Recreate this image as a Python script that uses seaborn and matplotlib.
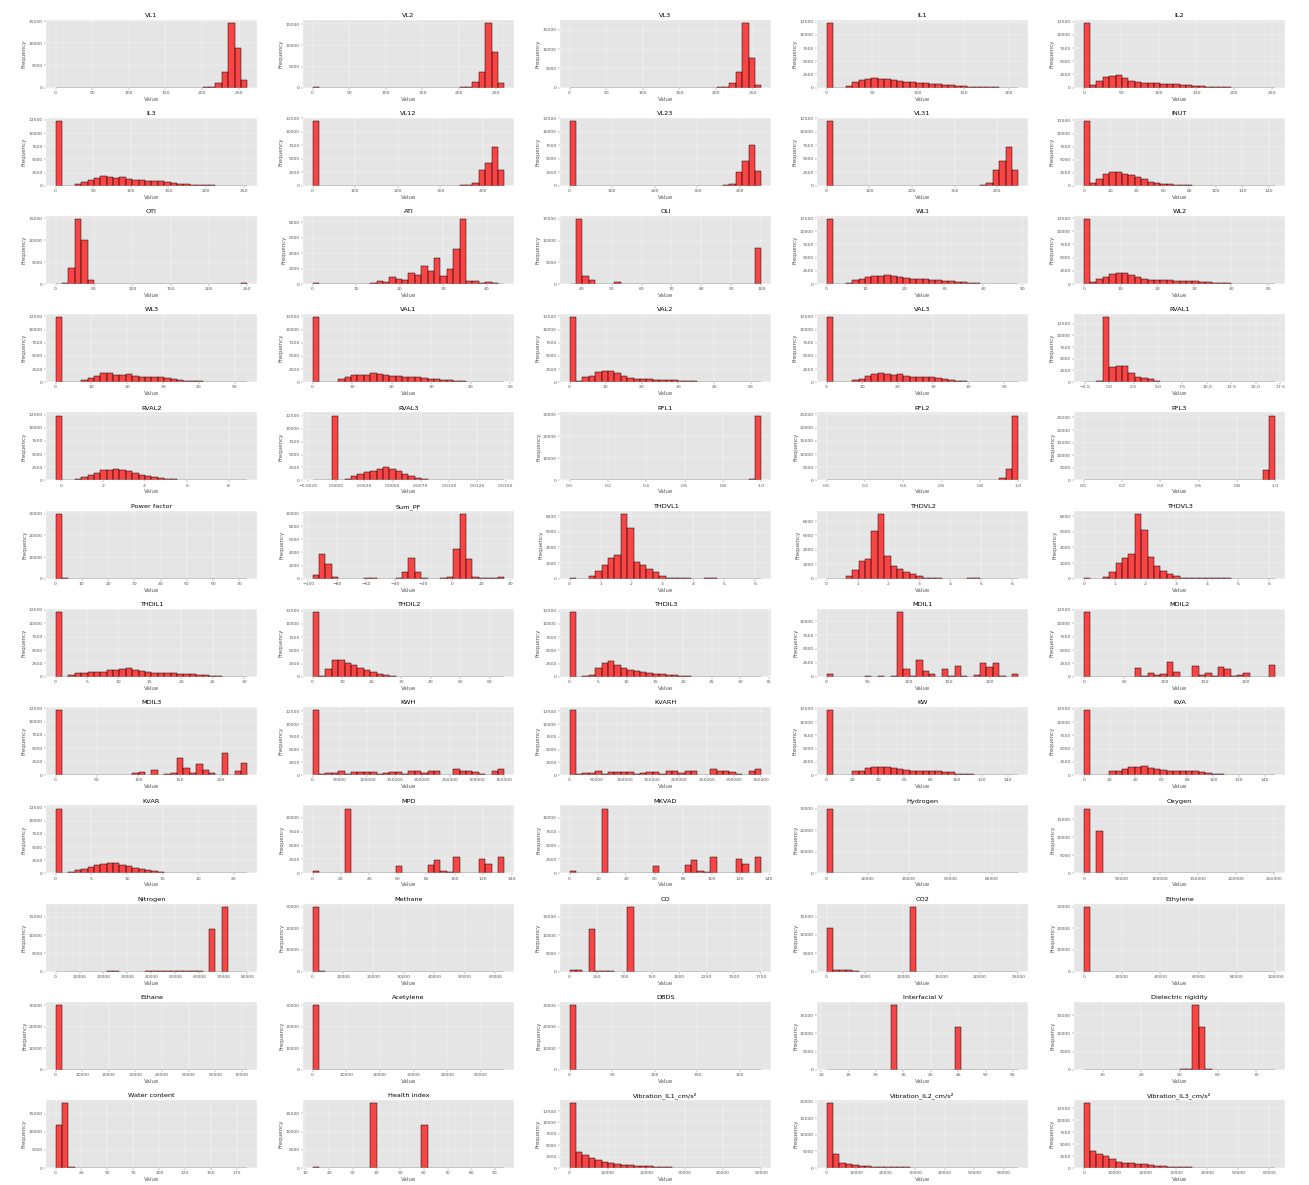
import numpy as np
import pandas as pd
import matplotlib
matplotlib.use("Agg")
import matplotlib.pyplot as plt
from matplotlib.ticker import MaxNLocator
import seaborn as sns

# ---------------------------------------------------------------------------
# Histogram data: for every column, the (min, max) range of the values and
# the counts of its 30 equal-width bins.
# ---------------------------------------------------------------------------
VL1_RANGE = (0, 262)
VL1 = [5, 0, 0, 0, 0, 0, 0, 0, 0, 0, 0, 0, 0, 0, 0, 0, 0, 0, 0, 0,
       0, 0, 0, 50, 150, 1000, 3500, 14600, 9000, 1600]
VL2_RANGE = (0, 262)
VL2 = [150, 0, 0, 0, 0, 0, 0, 0, 0, 0, 0, 0, 0, 0, 0, 0, 0, 0, 0, 0,
       0, 0, 0, 50, 100, 1300, 3700, 15400, 8500, 1100]
VL3_RANGE = (0, 262)
VL3 = [5, 0, 0, 0, 0, 0, 0, 0, 0, 0, 0, 0, 0, 0, 0, 0, 0, 0, 0, 0,
       0, 0, 0, 50, 100, 1100, 3900, 16800, 7700, 600]
IL1_RANGE = (0, 210)
IL1 = [12300, 0, 0, 300, 1000, 1400, 1600, 1800, 1700, 1600,
       1500, 1300, 1100, 1000, 900, 800, 700, 600, 500, 400,
       300, 200, 120, 60, 30, 20, 10, 5, 5, 3]
IL2_RANGE = (0, 255)
IL2 = [12300, 500, 1300, 2000, 2100, 2300, 1900, 1300, 1000, 900,
       800, 800, 700, 600, 600, 500, 400, 300, 200, 100,
       60, 30, 10, 5, 3, 2, 0, 0, 0, 2]
IL3_RANGE = (0, 255)
IL3 = [12300, 0, 0, 300, 700, 1100, 1500, 1800, 1600, 1500,
       1600, 1200, 1100, 1000, 900, 900, 900, 800, 600, 400,
       300, 200, 150, 100, 50, 20, 10, 5, 5, 3]
VL12_RANGE = (0, 450)
VL12 = [12000, 0, 0, 0, 0, 0, 0, 0, 0, 0, 0, 0, 0, 0, 0, 0, 0, 0, 0, 0,
        0, 0, 0, 50, 100, 500, 2900, 4300, 7100, 3000]
VL23_RANGE = (0, 450)
VL23 = [12000, 0, 0, 0, 0, 0, 0, 0, 0, 0, 0, 0, 0, 0, 0, 0, 0, 0, 0, 0,
        0, 0, 0, 30, 100, 400, 2600, 4600, 7600, 2700]
VL31_RANGE = (0, 450)
VL31 = [12000, 0, 0, 0, 0, 0, 0, 0, 0, 0, 0, 0, 0, 0, 0, 0, 0, 0, 0, 0,
        0, 0, 0, 30, 100, 500, 2900, 4500, 7200, 2900]
INUT_RANGE = (0, 145)
INUT = [12400, 600, 1300, 2300, 2700, 2600, 2300, 2000, 1600, 1200,
        800, 600, 400, 250, 150, 80, 50, 20, 10, 5,
        3, 2, 0, 0, 0, 0, 0, 0, 0, 2]

OTI_RANGE = (0, 250)
OTI = [30, 300, 3700, 14800, 10000, 800, 100, 0, 0, 0,
       0, 0, 0, 0, 0, 0, 0, 0, 0, 0, 0, 0, 0, 0, 0, 0, 0, 0, 0, 200]
ATI_RANGE = (0, 44)
ATI = [100, 0, 0, 0, 0, 0, 0, 0, 50, 100,
       400, 300, 900, 600, 500, 1400, 1200, 2300, 1700, 3400,
       1100, 2000, 4600, 8400, 400, 400, 100, 200, 100, 30]
OLI_RANGE = (36, 100)
OLI = [100, 14900, 1800, 1000, 100, 100, 100, 400, 100, 50,
       50, 50, 100, 50, 50, 50, 50, 50, 50, 50,
       50, 50, 100, 50, 50, 100, 50, 50, 100, 8200]
WL1_RANGE = (0, 49)
WL1 = [12300, 0, 0, 100, 700, 1000, 1400, 1500, 1500, 1800,
       1500, 1300, 1200, 1000, 1000, 900, 800, 700, 600, 500,
       400, 300, 200, 100, 60, 40, 20, 10, 5, 3]
WL2_RANGE = (0, 52)
WL2 = [12300, 300, 1000, 1400, 1900, 2000, 2000, 1700, 1300, 1000,
       800, 800, 700, 700, 600, 600, 500, 500, 400, 300,
       200, 150, 100, 50, 30, 10, 5, 3, 2, 2]

WL3_RANGE = (0, 53.5)
WL3 = [12300, 0, 0, 100, 500, 800, 1200, 1700, 1800, 1400,
       1400, 1600, 1100, 1000, 900, 900, 900, 800, 600, 400,
       300, 200, 150, 100, 60, 40, 20, 10, 5, 3]
VAL1_RANGE = (0, 48.5)
VAL1 = [12300, 0, 0, 100, 700, 1000, 1400, 1400, 1400, 1700,
        1500, 1400, 1200, 1100, 1000, 900, 900, 800, 700, 600,
        500, 400, 300, 200, 100, 60, 40, 20, 10, 5]
VAL2_RANGE = (0, 53)
VAL2 = [12300, 200, 1000, 1200, 2000, 2100, 2100, 1800, 1200, 800,
        700, 700, 600, 500, 500, 400, 400, 300, 200, 150,
        100, 60, 30, 10, 5, 3, 2, 0, 0, 2]
VAL3_RANGE = (0, 54)
VAL3 = [12300, 0, 0, 100, 500, 700, 1100, 1600, 1800, 1500,
        1400, 1600, 1100, 1000, 900, 900, 900, 800, 600, 400,
        300, 200, 100, 50, 30, 20, 10, 5, 3, 2]
RVAL1_RANGE = (-2.6, 17.0)
RVAL1 = [3, 0, 200, 13800, 3200, 3500, 3500, 2000, 1200, 900,
         600, 300, 100, 50, 20, 10, 5, 0, 0, 0,
         0, 0, 0, 0, 0, 0, 0, 0, 0, 2]

RVAL2_RANGE = (-0.25, 8.9)
RVAL2 = [12300, 0, 0, 300, 600, 1000, 1500, 2000, 2000, 2100,
         1900, 1700, 1400, 1100, 800, 600, 400, 300, 200, 150,
         100, 60, 40, 20, 10, 5, 3, 2, 0, 2]
RVAL3_RANGE = (-0.0021, 0.0149)
RVAL3 = [3, 0, 100, 12500, 0, 300, 800, 1300, 1600, 1800,
         2300, 2600, 2200, 1800, 1300, 900, 500, 250, 100, 50,
         20, 10, 5, 0, 0, 0, 0, 0, 0, 2]
PFL1_RANGE = (0, 1)
PFL1 = [30, 0, 0, 0, 0, 0, 0, 0, 0, 0, 0, 0, 0, 0, 0, 0, 0, 0, 0, 0,
        0, 0, 0, 0, 0, 0, 0, 0, 700, 29300]
PFL2_RANGE = (0, 1)
PFL2 = [30, 0, 0, 0, 0, 0, 0, 0, 0, 0, 0, 0, 0, 0, 0, 0, 0, 0, 0, 0,
        0, 0, 0, 0, 0, 50, 200, 1100, 4200, 24500]
PFL3_RANGE = (0, 1)
PFL3 = [30, 0, 0, 0, 0, 0, 0, 0, 0, 0, 0, 0, 0, 0, 0, 0, 0, 0, 0, 0,
        0, 0, 0, 0, 0, 0, 100, 300, 4000, 25700]

POWER_FACTOR_RANGE = (0, 73)
POWER_FACTOR = [30000, 100, 0, 0, 0, 0, 0, 0, 0, 0, 0, 0, 0, 0, 0,
                0, 0, 0, 0, 0, 0, 0, 0, 0, 0, 0, 0, 0, 0, 2]
SUM_PF_RANGE = (-97, 36)
SUM_PF = [500, 3700, 2200, 200, 0, 0, 0, 0, 50, 50,
          0, 0, 0, 50, 1000, 3100, 1000, 50, 0, 0,
          50, 200, 4600, 9900, 3000, 200, 30, 30, 30, 300]
THDVL1_RANGE = (0, 6.2)
THDVL1 = [20, 10, 10, 300, 1000, 1700, 2700, 3000, 8300, 6500,
          2100, 1700, 1300, 800, 300, 100, 50, 30, 20, 10,
          10, 40, 40, 0, 0, 0, 0, 0, 0, 5]
THDVL2_RANGE = (0, 6.2)
THDVL2 = [20, 10, 10, 300, 1200, 2400, 2700, 6600, 9000, 3200,
          1700, 1300, 900, 700, 400, 100, 50, 30, 20, 10,
          10, 10, 40, 40, 0, 0, 0, 0, 0, 5]
THDVL3_RANGE = (0, 6.2)
THDVL3 = [20, 10, 10, 200, 900, 2000, 2600, 3200, 8300, 6200,
          2800, 1600, 1000, 600, 400, 100, 30, 30, 30, 30,
          30, 30, 30, 0, 0, 0, 0, 0, 0, 5]

THDIL1_RANGE = (0, 30.5)
THDIL1 = [12100, 0, 300, 700, 700, 900, 900, 900, 1200, 1300,
          1500, 1600, 1300, 1100, 900, 800, 700, 700, 700, 600,
          600, 500, 400, 300, 200, 100, 50, 20, 10, 5]
THDIL2_RANGE = (0, 65)
THDIL2 = [12200, 100, 1400, 3200, 3200, 2700, 2300, 1700, 1300, 1000,
          600, 300, 100, 30, 10, 5, 3, 2, 0, 0,
          0, 0, 0, 0, 0, 0, 0, 0, 0, 2]
THDIL3_RANGE = (0, 33.7)
THDIL3 = [12200, 0, 100, 400, 1600, 2600, 3000, 2200, 1600, 1300,
          1200, 1000, 800, 600, 500, 400, 300, 200, 100, 50,
          20, 10, 5, 0, 0, 0, 0, 0, 0, 2]
MDIL1_RANGE = (0, 235)
MDIL1 = [450, 0, 0, 0, 0, 0, 100, 0, 200, 0,
         200, 11600, 1500, 100, 3100, 1100, 500, 50, 1400, 100,
         1900, 100, 50, 400, 2400, 1800, 2500, 100, 0, 500]
MDIL2_RANGE = (0, 237)
MDIL2 = [12100, 0, 0, 50, 0, 50, 0, 50, 1600, 100,
         700, 300, 500, 2800, 1000, 0, 50, 2100, 400, 700,
         200, 1900, 1500, 100, 400, 700, 0, 0, 0, 2300]

MDIL3_RANGE = (0, 232)
MDIL3 = [12100, 0, 0, 0, 0, 0, 0, 50, 50, 50,
         50, 50, 300, 500, 100, 900, 100, 200, 300, 3200,
         1400, 300, 2100, 900, 300, 0, 4200, 0, 700, 2300]
KWH_RANGE = (0, 350000)
KWH = [12700, 300, 500, 500, 900, 300, 600, 700, 700, 700,
       200, 500, 700, 700, 300, 800, 800, 500, 800, 800,
       50, 100, 1100, 900, 800, 600, 300, 0, 900, 1200]
KVARH_RANGE = (0, 350000)
KVARH = [12700, 300, 500, 500, 900, 300, 600, 700, 700, 700,
         200, 500, 700, 700, 300, 800, 800, 500, 800, 800,
         50, 100, 1100, 900, 800, 600, 300, 0, 900, 1200]
KW_RANGE = (0, 148)
KW = [12200, 0, 0, 100, 700, 800, 1300, 1600, 1600, 1600,
      1300, 1200, 1000, 800, 700, 700, 700, 700, 600, 500,
      300, 200, 150, 100, 60, 30, 10, 5, 3, 2]
KVA_RANGE = (0, 148)
KVA = [12200, 0, 0, 50, 700, 800, 1100, 1500, 1600, 1700,
       1400, 1200, 900, 800, 700, 700, 700, 700, 600, 400,
       300, 200, 100, 50, 20, 10, 5, 3, 2, 2]

KVAR_RANGE = (0, 26.9)
KVAR = [12300, 0, 300, 600, 900, 1200, 1600, 1700, 2000, 1900,
        1600, 1300, 1000, 800, 600, 400, 200, 100, 60, 40,
        30, 20, 10, 10, 5, 0, 0, 0, 0, 2]
MPD_RANGE = (0, 135)
MPD = [400, 0, 0, 0, 0, 11700, 0, 100, 0, 100,
       0, 50, 50, 1400, 0, 50, 50, 50, 1500, 2400,
       500, 300, 3000, 0, 100, 100, 2500, 1700, 0, 2900]
MKVAD_RANGE = (0, 135)
MKVAD = [400, 0, 0, 0, 0, 11700, 0, 100, 0, 100,
         0, 50, 50, 1400, 0, 50, 50, 50, 1500, 2400,
         500, 300, 3000, 0, 100, 100, 2500, 1700, 0, 2900]
HYDROGEN_RANGE = (0, 93000)
HYDROGEN = [30000, 0, 0, 0, 0, 0, 0, 0, 0, 0, 0, 0, 0, 0, 0,
            0, 0, 0, 0, 0, 0, 0, 0, 0, 0, 0, 0, 0, 0, 2]
OXYGEN_RANGE = (0, 252000)
OXYGEN = [18000, 100, 11800, 0, 0, 0, 0, 0, 0, 0, 0, 0, 0, 0, 0,
          0, 0, 0, 0, 0, 0, 0, 0, 0, 0, 0, 0, 0, 0, 2]

NITROGEN_RANGE = (0, 80000)
NITROGEN = [5, 0, 0, 0, 0, 0, 0, 0, 100, 100,
            0, 0, 0, 0, 100, 50, 50, 50, 50, 50,
            50, 50, 50, 0, 11700, 0, 17800, 0, 0, 5]
METHANE_RANGE = (0, 63000)
METHANE = [30000, 100, 0, 0, 0, 0, 0, 0, 0, 0, 0, 0, 0, 0, 0,
           0, 0, 0, 0, 0, 0, 0, 0, 0, 0, 0, 0, 0, 0, 2]
CO_RANGE = (0, 1750)
CO = [300, 300, 0, 11700, 100, 100, 100, 0, 0, 17800,
      0, 0, 0, 0, 0, 0, 0, 0, 0, 0, 0, 0, 0, 0, 0, 0, 0, 0, 0, 3]
CO2_RANGE = (0, 25000)
CO2 = [11800, 300, 300, 300, 100, 0, 0, 0, 0, 0,
       0, 0, 0, 17700, 0, 0, 0, 0, 0, 0, 0, 0, 0, 0, 0, 0, 0, 0, 0, 3]
ETHYLENE_RANGE = (0, 100000)
ETHYLENE = [30000, 0, 0, 0, 0, 0, 0, 0, 0, 0, 0, 0, 0, 0, 0,
            0, 0, 0, 0, 0, 0, 0, 0, 0, 0, 0, 0, 0, 0, 2]

ETHANE_RANGE = (0, 72000)
ETHANE = [30000, 0, 0, 0, 0, 0, 0, 0, 0, 0, 0, 0, 0, 0, 0,
          0, 0, 0, 0, 0, 0, 0, 0, 0, 0, 0, 0, 0, 0, 2]
ACETYLENE_RANGE = (0, 57000)
ACETYLENE = [30000, 0, 0, 0, 0, 0, 0, 0, 0, 0, 0, 0, 0, 0, 0,
             0, 0, 0, 0, 0, 0, 0, 0, 0, 0, 0, 0, 0, 0, 2]
DBDS_RANGE = (0, 225)
DBDS = [30000, 0, 0, 0, 0, 0, 0, 0, 0, 0, 0, 0, 0, 0, 0,
        0, 0, 0, 0, 0, 0, 0, 0, 0, 0, 0, 0, 0, 0, 2]
INTERFACIAL_V_RANGE = (21, 56)
INTERFACIAL_V = [5, 0, 0, 0, 0, 0, 0, 50, 0, 0,
                 17800, 50, 0, 0, 0, 0, 50, 50, 50, 50,
                 11800, 50, 0, 0, 0, 0, 0, 0, 0, 5]
DIELECTRIC_RANGE = (25, 75)
DIELECTRIC = [5, 0, 0, 0, 0, 0, 0, 0, 0, 0,
              0, 0, 0, 0, 50, 100, 100, 17800, 11700, 200,
              50, 0, 0, 0, 0, 0, 0, 0, 0, 5]

WATER_RANGE = (0, 185)
WATER = [11900, 17900, 200, 100, 50, 30, 0, 0, 0, 0, 0, 0, 0, 0, 0,
         0, 0, 0, 0, 0, 0, 0, 0, 0, 0, 0, 0, 0, 0, 3]
HEALTH_RANGE = (13, 94)
HEALTH = [400, 0, 0, 0, 0, 0, 0, 0, 0, 17800,
          0, 0, 0, 100, 0, 0, 0, 11800, 0, 0,
          0, 0, 0, 0, 0, 0, 0, 0, 0, 5]
VIB_IL1_RANGE = (0, 50000)
VIB_IL1 = [14200, 3500, 2900, 2200, 1700, 1300, 1000, 900, 700, 600,
           500, 400, 350, 300, 200, 150, 100, 80, 60, 50,
           40, 30, 30, 20, 10, 5, 3, 2, 2, 2]
VIB_IL2_RANGE = (0, 65000)
VIB_IL2 = [19500, 4100, 1600, 1100, 900, 700, 500, 400, 400, 300,
           250, 200, 150, 100, 100, 80, 50, 30, 20, 10,
           5, 3, 2, 2, 0, 0, 0, 0, 0, 2]
VIB_IL3_RANGE = (0, 62000)
VIB_IL3 = [13600, 3500, 3000, 2600, 1800, 1300, 1000, 1000, 900, 800,
           700, 500, 400, 300, 250, 200, 150, 100, 80, 60,
           50, 20, 10, 5, 3, 2, 0, 0, 0, 2]

PANELS = [
    ("VL1", VL1_RANGE, VL1), ("VL2", VL2_RANGE, VL2), ("VL3", VL3_RANGE, VL3),
    ("IL1", IL1_RANGE, IL1), ("IL2", IL2_RANGE, IL2),
    ("IL3", IL3_RANGE, IL3), ("VL12", VL12_RANGE, VL12), ("VL23", VL23_RANGE, VL23),
    ("VL31", VL31_RANGE, VL31), ("INUT", INUT_RANGE, INUT),
    ("OTI", OTI_RANGE, OTI), ("ATI", ATI_RANGE, ATI), ("OLI", OLI_RANGE, OLI),
    ("WL1", WL1_RANGE, WL1), ("WL2", WL2_RANGE, WL2),
    ("WL3", WL3_RANGE, WL3), ("VAL1", VAL1_RANGE, VAL1), ("VAL2", VAL2_RANGE, VAL2),
    ("VAL3", VAL3_RANGE, VAL3), ("RVAL1", RVAL1_RANGE, RVAL1),
    ("RVAL2", RVAL2_RANGE, RVAL2), ("RVAL3", RVAL3_RANGE, RVAL3),
    ("PFL1", PFL1_RANGE, PFL1), ("PFL2", PFL2_RANGE, PFL2), ("PFL3", PFL3_RANGE, PFL3),
    ("Power factor", POWER_FACTOR_RANGE, POWER_FACTOR), ("Sum_PF", SUM_PF_RANGE, SUM_PF),
    ("THDVL1", THDVL1_RANGE, THDVL1), ("THDVL2", THDVL2_RANGE, THDVL2),
    ("THDVL3", THDVL3_RANGE, THDVL3),
    ("THDIL1", THDIL1_RANGE, THDIL1), ("THDIL2", THDIL2_RANGE, THDIL2),
    ("THDIL3", THDIL3_RANGE, THDIL3), ("MDIL1", MDIL1_RANGE, MDIL1),
    ("MDIL2", MDIL2_RANGE, MDIL2),
    ("MDIL3", MDIL3_RANGE, MDIL3), ("KWH", KWH_RANGE, KWH), ("KVARH", KVARH_RANGE, KVARH),
    ("KW", KW_RANGE, KW), ("KVA", KVA_RANGE, KVA),
    ("KVAR", KVAR_RANGE, KVAR), ("MPD", MPD_RANGE, MPD), ("MKVAD", MKVAD_RANGE, MKVAD),
    ("Hydrogen", HYDROGEN_RANGE, HYDROGEN), ("Oxygen", OXYGEN_RANGE, OXYGEN),
    ("Nitrogen", NITROGEN_RANGE, NITROGEN), ("Methane", METHANE_RANGE, METHANE),
    ("CO", CO_RANGE, CO), ("CO2", CO2_RANGE, CO2), ("Ethylene", ETHYLENE_RANGE, ETHYLENE),
    ("Ethane", ETHANE_RANGE, ETHANE), ("Acetylene", ACETYLENE_RANGE, ACETYLENE),
    ("DBDS", DBDS_RANGE, DBDS), ("Interfacial V", INTERFACIAL_V_RANGE, INTERFACIAL_V),
    ("Dielectric rigidity", DIELECTRIC_RANGE, DIELECTRIC),
    ("Water content", WATER_RANGE, WATER), ("Health index", HEALTH_RANGE, HEALTH),
    ("Vibration_IL1_cm/s²", VIB_IL1_RANGE, VIB_IL1),
    ("Vibration_IL2_cm/s²", VIB_IL2_RANGE, VIB_IL2),
    ("Vibration_IL3_cm/s²", VIB_IL3_RANGE, VIB_IL3),
]

# ---------------------------------------------------------------------------
# Figure: a 12 x 5 grid of histograms in the ggplot look
# ---------------------------------------------------------------------------
plt.style.use("ggplot")
DPI = 32.725

fig, axes = plt.subplots(12, 5, figsize=(40.0005, 36.212))
fig.subplots_adjust(left=0.0351, right=0.9817, top=0.9835, bottom=0.01435,
                    wspace=0.218, hspace=0.444)

for ax, (title, (lo, hi), counts) in zip(axes.flat, PANELS):
    step = (hi - lo) / len(counts)
    table = pd.DataFrame({
        "value": lo + step * (np.arange(len(counts)) + 0.5),
        "count": np.asarray(counts, dtype=float),
    })
    sns.histplot(data=table, x="value", weights="count",
                 bins=len(counts), binrange=(lo, hi), ax=ax,
                 color="red", alpha=0.7, edgecolor="black", linewidth=1.0)
    ax.set_title(title)
    ax.set_xlabel("Value")
    ax.set_ylabel("Frequency")
    ax.xaxis.set_major_locator(MaxNLocator(nbins=9, steps=[1, 2, 2.5, 5, 10]))
    ax.yaxis.set_major_locator(MaxNLocator(nbins=6, steps=[1, 2, 2.5, 5, 10]))

fig.savefig("out.png", dpi=DPI)
